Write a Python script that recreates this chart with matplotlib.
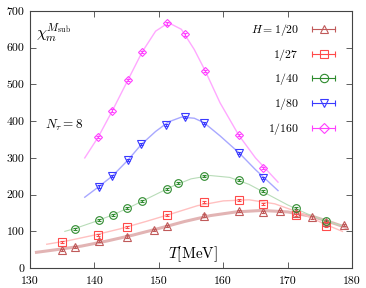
import matplotlib
matplotlib.use('Agg')
import matplotlib.pyplot as plt
from matplotlib.lines import Line2D
from matplotlib.legend_handler import HandlerLine2D

plt.rcParams['font.family'] = 'serif'
plt.rcParams['font.serif'] = ['cmr10', 'DejaVu Serif']
plt.rcParams['mathtext.fontset'] = 'cm'
plt.rcParams['axes.unicode_minus'] = False

# measured points (T in MeV, chi)
T_20 = [134.9, 137.0, 140.7, 145.1, 149.2, 151.2, 157.0, 162.5, 166.2, 168.8, 171.3, 173.7, 175.9, 178.7]
chi_20 = [50, 58, 73, 86, 104, 114, 143, 155, 153, 155, 151, 138, 126, 117]

T_27 = [134.9, 140.6, 145.1, 151.2, 157.0, 162.5, 166.2, 171.3, 175.9]
chi_27 = [71, 91, 111, 145, 179, 186, 174, 145, 115]

T_40 = [137.0, 140.7, 142.9, 145.1, 147.4, 151.2, 152.9, 157.0, 162.4, 166.1, 171.3, 176.0]
chi_40 = [107, 130, 144, 163, 182, 216, 232, 251, 240, 209, 163, 128]

T_80 = [140.7, 142.8, 145.2, 147.3, 151.1, 154.0, 157.0, 162.5, 166.1]
chi_80 = [222, 251, 294, 337, 390, 412, 395, 313, 246]

T_160 = [140.6, 142.8, 145.2, 147.4, 151.2, 154.1, 157.2, 162.4, 166.2]
chi_160 = [357, 429, 512, 588, 666, 636, 537, 362, 272]

# fit curves
fT_20 = [131, 134, 138, 142, 146, 150, 154, 158, 162, 166, 170, 174, 177, 179]
fchi_20 = [43, 50, 60, 74, 90, 108, 127, 143, 153, 157, 153, 140, 123, 111]

fT_27 = [132.6, 136, 140, 144, 148, 152, 156, 160, 164, 168, 172, 176, 178.5]
fchi_27 = [65, 75, 90, 107, 127, 148, 170, 183, 186, 175, 150, 118, 100]

fT_40 = [135.4, 137, 140, 143, 146, 149, 152, 155, 158, 161, 164, 167, 170, 173, 176, 178.5]
fchi_40 = [100, 108, 126, 146, 170, 196, 222, 243, 252, 247, 228, 200, 172, 148, 128, 115]

fT_80 = [138.5, 140.7, 142.8, 145.2, 147.3, 149.5, 151.5, 153.5, 155.5, 157.0, 159.5, 162.5, 165, 168.5]
fchi_80 = [193, 222, 251, 294, 337, 372, 398, 411, 408, 396, 360, 313, 268, 211]

fT_160 = [138.5, 140.6, 142.8, 145.2, 147.4, 149.5, 151.5, 153.5, 155.5, 157.2, 159.5, 162.4, 165, 168.5]
fchi_160 = [300, 357, 429, 512, 588, 645, 668, 650, 595, 537, 450, 362, 300, 234]

labels = ['$H=1/20$', '$1/27$', '$1/40$', '$1/80$', '$1/160$']

series = [
    (T_20, chi_20, fT_20, fchi_20, '#c05a5a', '#e2b4b4', '^', 2.2),
    (T_27, chi_27, fT_27, fchi_27, '#ff4a4a', '#ffc0c0', 's', 1.0),
    (T_40, chi_40, fT_40, fchi_40, '#2e8b2e', '#b8dcb8', 'o', 0.8),
    (T_80, chi_80, fT_80, fchi_80, '#3a3aff', '#a8a8ff', 'v', 1.0),
    (T_160, chi_160, fT_160, fchi_160, '#ff40ff', '#ffa8ff', 'D', 1.0),
]

fig = plt.figure(figsize=(3.66, 2.88), dpi=100)
ax = fig.add_axes([0.082, 0.069, 0.88, 0.893])

handles = []
hmap = {}
for T, chi, fT, fchi, c, lc, m, lw in series:
    ax.plot(fT, fchi, color=lc, lw=lw, zorder=1)
    ms = 4.2 if m == 'D' else 5.5
    ax.errorbar(T, chi, yerr=3, fmt=m, color=c, mfc='none', ms=ms, mew=0.8,
                elinewidth=0.7, capsize=1.5, capthick=0.7, zorder=3)
    cap = Line2D([], [], color=c, lw=0.8, marker='|', ms=4.5, mew=0.8)
    mk = Line2D([], [], color=c, ls='none', marker=m, mfc='none', ms=ms + 0.5, mew=0.8)
    hmap[cap] = HandlerLine2D(numpoints=2)
    handles.append((cap, mk))

ax.legend(handles, labels, handler_map=hmap, markerfirst=False, frameon=False,
          loc='upper right', numpoints=1, handlelength=2.6, fontsize=8.5,
          labelspacing=0.75, borderaxespad=0.3, bbox_to_anchor=(0.985, 0.99))

ax.text(0.018, 0.915, r'$\chi_m^{M_{\rm sub}}$', transform=ax.transAxes, fontsize=11.5, va='center')
ax.text(0.047, 0.556, r'$N_\tau=8$', transform=ax.transAxes, fontsize=9.5, va='center')
ax.text(0.428, 0.055, r'$T[\mathrm{MeV}]$', transform=ax.transAxes, fontsize=11, va='center')

ax.set_xlim(130, 180)
ax.set_ylim(0, 700)
ax.set_xticks([130, 140, 150, 160, 170, 180])
ax.set_yticks([0, 100, 200, 300, 400, 500, 600, 700])
ax.tick_params(direction='in', top=True, right=True, length=4, width=0.6,
               labelsize=8.5, color='#444444')
ax.tick_params(axis='x', pad=6)
ax.tick_params(axis='y', pad=4)
for s in ax.spines.values():
    s.set_color('#444444')
    s.set_linewidth(0.8)

fig.savefig('out.png', dpi=100)
